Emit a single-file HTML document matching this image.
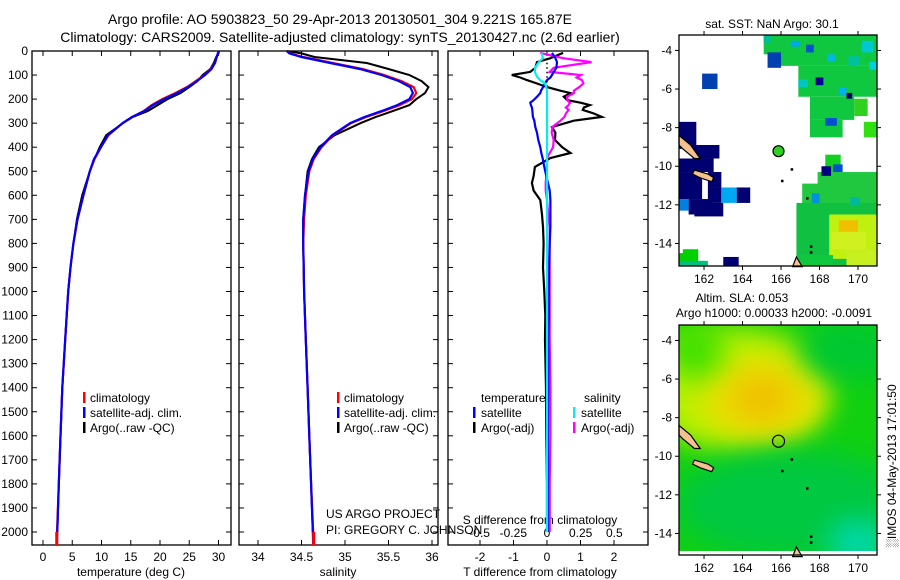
<!DOCTYPE html>
<html><head><meta charset="utf-8"><style>
body{margin:0;background:#fff;}
svg{display:block;font-family:"Liberation Sans",sans-serif;}
text{fill:#000;}
</style></head><body>
<svg id="fig" width="900" height="580" viewBox="0 0 900 580" xmlns="http://www.w3.org/2000/svg">
<defs>
<filter id="blur" x="-50%" y="-50%" width="200%" height="200%"><feGaussianBlur stdDeviation="14"/></filter>
<clipPath id="clipMap2"><rect x="679" y="325" width="198" height="230"/></clipPath>
<clipPath id="clipMap1"><rect x="679" y="35" width="198" height="231"/></clipPath>
</defs>
<text x="340" y="24" font-size="14" text-anchor="middle">Argo profile: AO 5903823_50 29-Apr-2013 20130501_304 9.221S 165.87E</text>
<text x="340" y="42" font-size="14" text-anchor="middle">Climatology: CARS2009. Satellite-adjusted climatology: synTS_20130427.nc (2.6d earlier)</text>
<g id="g"></g>
</svg>
<script>
// ---------- data ----------
const depth = [0,10,25,50,75,100,125,150,175,200,225,250,275,300,350,400,450,500,600,700,800,900,1000,1200,1400,1600,1800,2000,2050];
const tempSat  = [30.0,29.9,29.7,29.4,28.8,27.7,26.3,24.8,22.9,20.7,18.8,17.3,15.2,13.6,11.1,9.9,8.7,8.0,6.9,5.9,5.2,4.7,4.3,3.8,3.3,3.0,2.7,2.45,2.4];
const tempClim = [30.0,29.9,29.7,29.4,28.7,27.6,26.1,24.6,22.6,20.4,18.6,17.2,15.2,13.6,11.2,9.9,8.8,8.0,6.9,5.9,5.2,4.7,4.3,3.8,3.3,3.0,2.7,2.4,2.35];
const tempArgo = [30.1,30.0,29.6,29.2,28.6,27.3,26.4,25.0,23.5,21.3,19.6,17.9,15.3,13.7,10.8,9.7,8.8,8.0,6.7,5.8,5.2,4.7,4.3,3.8,3.3,3.0,2.7,2.45,2.45];
const salSat  = [34.33,34.36,34.5,34.83,35.17,35.42,35.62,35.75,35.78,35.74,35.6,35.42,35.22,35.06,34.85,34.72,34.63,34.58,34.54,34.52,34.52,34.525,34.53,34.55,34.57,34.59,34.61,34.63,34.635];
const salClim = [34.33,34.37,34.52,34.86,35.2,35.45,35.65,35.79,35.82,35.77,35.63,35.44,35.24,35.07,34.86,34.73,34.64,34.59,34.55,34.53,34.52,34.525,34.53,34.55,34.57,34.59,34.61,34.635,34.64];
const salArgo = [34.33,34.5,34.65,35.25,35.5,35.74,35.88,35.96,35.92,35.82,35.74,35.55,35.35,35.18,34.88,34.7,34.62,34.57,34.54,34.52,34.52,34.525,34.53,34.55,34.57,34.59,34.61,34.63,34.63];
const diffDepth = [8,30,46,70,87,100,110,121,135,150,165,175,190,204,215,225,235,245,260,274,290,316,340,370,400,424,445,482,520,549,580,620,680,732,800,900,1000,1100,1200,1400,1600,1800,2000];
const tArgoDiff = [0.48,0.1,-0.3,-0.35,-0.5,-1.05,-0.8,-0.6,-0.3,0,0.4,0.7,0.5,0.6,1.0,1.28,1.1,1.07,1.4,1.64,0.8,0.15,0.25,0.24,0.45,0.7,0.1,-0.36,-0.4,-0.45,-0.4,-0.2,-0.15,-0.12,-0.1,-0.12,-0.08,-0.05,-0.06,-0.03,-0.02,0,0];
const tSatDiff  = [0.15,0.25,0.3,0.28,0.2,0.15,0.1,0,-0.06,-0.12,-0.18,-0.2,-0.3,-0.4,-0.5,-0.48,-0.45,-0.44,-0.43,-0.42,-0.38,-0.35,-0.3,-0.26,-0.2,-0.17,-0.13,-0.08,-0.02,0.03,0.08,0.1,0.1,0.1,0.08,0.06,0.05,0.05,0.04,0.04,0.03,0.03,0.03];
const sSatDiff  = [-0.04,-0.03,-0.06,-0.09,-0.09,-0.08,-0.07,-0.05,-0.015,-0.005,0,0,0,0,0,0,0,0,0,0,0,0,0,0,0,0,0,0,0,0,0,0,0,0,0,0,0,0,0,0,0,0,0];
const sArgoDiff = [-0.05,0.12,0.33,0.05,0.02,0.25,0.22,0.26,0.27,0.24,0.2,0.2,0.15,0.15,0.17,0.16,0.14,0.16,0.14,0.13,0.1,0.04,0.035,0.05,0.045,0.02,0,0,-0.005,-0.01,-0.01,0,0.01,0.02,0.02,0.02,0.02,0.02,0.02,0.025,0.025,0.02,0.02];
const depthTicks = [0,100,200,300,400,500,600,700,800,900,1000,1100,1200,1300,1400,1500,1600,1700,1800,1900,2000];
const tempTicks = [0,5,10,15,20,25,30];
const salTicks = [34,34.5,35,35.5,36];
const salTickLabels = ["34","34.5","35","35.5","36"];
const tdTicks = [-2,-1,0,1,2];
const sdTicks = [-0.5,-0.25,0,0.25,0.5];
const sdTickLabels = ["-0.5","-0.25","0","0.25","0.5"];
const lonTicks = [162,164,166,168,170];
const latTicks = [-4,-6,-8,-10,-12,-14];
const argoLon = 165.87, argoLat = -9.221;

// ---------- helpers ----------
const NS="http://www.w3.org/2000/svg";
const G=document.getElementById('g');
function mk(tag, attrs, parent){const e=document.createElementNS(NS,tag);for(const k in attrs)e.setAttribute(k,attrs[k]);(parent||G).appendChild(e);return e;}
const yD = d => 51 + d*0.2405;
const xT = t => 43 + t*5.85;
const xS = s => 258 + (s-34)*87;
const xTD = t => 547 + t*33.5;
const xSD = s => 547 + s*134.7;
const mapX = lon => 679 + (lon-160.7)*19.25;
const map1Y = lat => 35 + (-3.2-lat)*19.3;
const map2Y = lat => 325 + (-3.2-lat)*19.3;

function frame(x,y,w,h,name){
  const r=mk('rect',{x:x,y:y,width:w,height:h,fill:'none',stroke:'#000','stroke-width':1.3});
  
  
}
function line(xs, ys, color, name, w){
  const pts = xs.map((v,i)=>v.toFixed(1)+','+ys[i].toFixed(1)).join(' ');
  const p=mk('polyline',{points:pts,fill:'none',stroke:color,'stroke-width':w||2.2,'stroke-linejoin':'miter'});
  
  
}
function txt(x,y,s,size,anchor,name,extra){
  const t=mk('text',Object.assign({x:x,y:y,'font-size':size,'text-anchor':anchor||'start'},extra||{}));
  t.textContent=s;
  
  
  return t;
}
function legendMark(x,y,color){
  const r=mk('rect',{x:x,y:y-10,width:2.5,height:11,fill:color});
  
  
}

// ---------- profile panels ----------
const panels=[[32,199],[239,199],[448,200]];
const PY=51, PH=494;
panels.forEach((p,i)=>{
  frame(p[0],PY,p[1],PH,'profile-panel-'+(i+1));
  depthTicks.forEach(d=>{
    mk('line',{x1:p[0],x2:p[0]+5,y1:yD(d),y2:yD(d),stroke:'#000','stroke-width':1});
    mk('line',{x1:p[0]+p[1]-5,x2:p[0]+p[1],y1:yD(d),y2:yD(d),stroke:'#000','stroke-width':1});
  });
});
depthTicks.forEach(d=>{ txt(28,yD(d)+4,String(d),12,'end','depth-tick-label'); });

tempTicks.forEach(t=>{
  mk('line',{x1:xT(t),x2:xT(t),y1:PY,y2:PY+5,stroke:'#000'});
  mk('line',{x1:xT(t),x2:xT(t),y1:PY+PH-5,y2:PY+PH,stroke:'#000'});
  txt(xT(t),561,String(t),12,'middle','temp-tick-label');
});
salTicks.forEach((s,i)=>{
  mk('line',{x1:xS(s),x2:xS(s),y1:PY,y2:PY+5,stroke:'#000'});
  mk('line',{x1:xS(s),x2:xS(s),y1:PY+PH-5,y2:PY+PH,stroke:'#000'});
  txt(xS(s),561,salTickLabels[i],12,'middle','salinity-tick-label');
});
tdTicks.forEach(t=>{
  mk('line',{x1:xTD(t),x2:xTD(t),y1:PY,y2:PY+5,stroke:'#000'});
  mk('line',{x1:xTD(t),x2:xTD(t),y1:PY+PH-5,y2:PY+PH,stroke:'#000'});
  txt(xTD(t),561,String(t),12,'middle','tdiff-tick-label');
});
sdTicks.forEach((s,i)=>{ txt(xSD(s),537,sdTickLabels[i],12,'middle','sdiff-tick-label'); });

txt(131,576,'temperature (deg C)',12,'middle','temperature-axis-title');
txt(338,576,'salinity',12,'middle','salinity-axis-title');
txt(540,576,'T difference from climatology',12,'middle','tdiff-axis-title');
txt(540,524,'S difference from climatology',12,'middle','sdiff-axis-title');

const ys = depth.map(yD);
line(tempArgo.slice(0,28).map(xT), ys.slice(0,28), '#000', 'temp-argo-line',2);
line(tempClim.map(xT), ys, '#f00', 'temp-climatology-line',2.2);
line(tempSat.map(xT), ys, '#0000ff', 'temp-satellite-line',2.2);
line(salArgo.slice(0,28).map(xS), ys.slice(0,28), '#000', 'salinity-argo-line',2);
line(salClim.map(xS), ys, '#f00', 'salinity-climatology-line',2.2);
line(salSat.map(xS), ys, '#0000ff', 'salinity-satellite-line',2.2);
mk('rect',{x:xT(tempClim[28])-1.5,y:yD(2000),width:3,height:13,fill:'#f00'});
mk('rect',{x:xS(salClim[28])-1.5,y:yD(2000),width:3,height:13,fill:'#f00'});

const dys = diffDepth.map(yD);
const z=mk('line',{x1:xTD(0),x2:xTD(0),y1:yD(30),y2:yD(560),stroke:'#000','stroke-width':1.5,'stroke-dasharray':'1.5,3'});


line(tArgoDiff.map(xTD), dys, '#000', 'tdiff-argo-line',2.2);
line(sArgoDiff.map(xSD), dys, '#ff00ff', 'sdiff-argo-line',2.2);
line(tSatDiff.map(xTD), dys, '#0000ff', 'tdiff-satellite-line',2.2);
line(sSatDiff.map(xSD), dys, '#00f0f0', 'sdiff-satellite-line',2.2);

[['#f00','climatology'],['#0000ff','satellite-adj. clim.'],['#000','Argo(..raw -QC)']].forEach((e,i)=>{
  legendMark(83,402+i*15,e[0]); txt(90,402+i*15,e[1],12,'start','temp-legend-entry');
  legendMark(337,402+i*15,e[0]); txt(344,402+i*15,e[1],12,'start','salinity-legend-entry');
});
txt(481,402,'temperature',12,'start','legend-header-temperature');
txt(584,402,'salinity',12,'start','legend-header-salinity');
legendMark(473,417,'#0000ff'); txt(481,417,'satellite',12,'start','legend-entry-t-satellite');
legendMark(473,432,'#000'); txt(481,432,'Argo(-adj)',12,'start','legend-entry-t-argo');
legendMark(573,417,'#00f0f0'); txt(581,417,'satellite',12,'start','legend-entry-s-satellite');
legendMark(573,432,'#ff00ff'); txt(581,432,'Argo(-adj)',12,'start','legend-entry-s-argo');
txt(326,518,'US ARGO PROJECT',12,'start','project-label');
txt(326,534,'PI: GREGORY C. JOHNSON',12,'start','pi-label');

// ---------- SST map ----------
const sstCells = [
 [165.1,-3.2,5.9,1.0,'#10c840'],[165.8,-3.2,5.2,1.6,'#10c840'],[166.9,-4.8,4.1,1.6,'#10c840'],[167.5,-6.4,2.3,1.2,'#10c840'],[167.5,-7.6,1.7,0.9,'#10c840'],
 [165.1,-3.2,0.4,0.4,'#00c090'],[166.5,-3.5,0.5,0.3,'#00a8f0'],[167.3,-3.7,0.4,0.4,'#0050d0'],[170.2,-3.5,0.6,0.6,'#00c8d0'],
 [169.5,-4.3,0.6,0.5,'#00c0a0'],[170.6,-4.6,0.4,0.4,'#00d0e0'],[168.4,-4.2,0.4,0.4,'#00b8e0'],[167.8,-5.4,0.4,0.4,'#000090'],
 [166.9,-5.5,0.5,0.4,'#00c8c0'],[169.0,-5.9,0.4,0.4,'#00b0f0'],[169.4,-6.2,0.3,0.3,'#000060'],[169.8,-6.5,0.7,0.9,'#30d020'],
 [168.3,-7.5,0.6,0.4,'#0050d0'],[170.3,-7.7,0.8,0.8,'#30e010'],[165.3,-4.1,0.7,0.8,'#0040b0'],[161.9,-5.2,0.8,0.8,'#0040b0'],
 [160.7,-7.7,0.9,1.4,'#000070'],[161.4,-8.9,1.4,0.7,'#000070'],[160.7,-9.6,1.8,0.7,'#000070'],[160.7,-10.3,1.2,1.4,'#000070'],
 [162.2,-10.3,0.7,0.8,'#000070'],[161.2,-11.7,1.2,0.8,'#000070'],[162.2,-11.1,0.7,0.8,'#000070'],[161.5,-11.9,1.5,0.7,'#000070'],
 [160.7,-11.7,0.5,0.6,'#0080e0'],[162.9,-11.1,0.8,0.8,'#00a8f0'],[163.7,-11.1,0.7,0.8,'#000070'],
 [168.3,-9.4,0.8,0.9,'#10d020'],[167.9,-10.3,3.1,1.4,'#20c840'],[167.1,-10.9,3.9,4.3,'#20c840'],[166.8,-11.9,4.2,3.4,'#10c040'],
 [168.5,-12.5,2.5,2.3,'#c0f010'],[169.0,-12.8,1.0,0.6,'#f0c000'],[168.6,-13.4,1.8,0.9,'#d0f020'],[169.4,-14.3,1.6,0.9,'#c8f020'],
 [168.1,-10.0,0.5,0.5,'#000080'],[168.7,-9.9,0.5,0.4,'#0050d0'],[167.6,-11.4,0.4,0.5,'#0090e0'],[169.6,-11.6,0.5,0.4,'#00b8a0'],
 [160.7,-14.5,0.3,0.5,'#00d000'],[160.9,-14.3,0.8,0.8,'#00d000'],[160.7,-14.9,1.5,0.4,'#00c080'],[160.7,-15.2,2.2,0.6,'#00c080'],
 [163.0,-14.7,0.8,0.5,'#000070'],[163.0,-15.2,0.8,0.6,'#000070'],[167.0,-14.6,1.7,0.6,'#10c840']
];
const m1=mk('g',{'clip-path':'url(#clipMap1)'});


sstCells.forEach(c=>{
  const r=mk('rect',{x:mapX(c[0]),y:map1Y(c[1]),width:c[2]*19.25,height:c[3]*19.3,fill:c[4]},m1);
  
  
});
// ---------- SLA map ----------
const m2=mk('g',{'clip-path':'url(#clipMap2)'});


mk('rect',{x:679,y:325,width:198,height:230,fill:'#10d010'},m2);
const blobs=[[163.5,-6.5,5,3.2,'#b8f000'],[165,-7,3.2,2.2,'#e8e000'],[165,-7,1.6,1.2,'#f0c000'],[169.5,-4.5,2.5,1.6,'#00c830'],
 [166.5,-12.5,6,2.8,'#00c840'],[170,-14.5,1.6,1.2,'#00d8b0'],[161.5,-4.5,1.5,1.5,'#40e000']];
blobs.forEach(b=>{
  mk('ellipse',{cx:mapX(b[0]),cy:map2Y(b[1]),rx:b[2]*19.25,ry:b[3]*19.3,fill:b[4],filter:'url(#blur)'},m2);
});
mk('rect',{x:679,y:551,width:198,height:4,fill:'#fff'},m2);

[map1Y,map2Y].forEach((Y,k)=>{
  const isl=[[[160.7,-8.4],[161.3,-8.9],[161.8,-9.6],[161.5,-9.6],[160.9,-9.1],[160.7,-8.9]],
             [[161.5,-10.2],[162.2,-10.4],[162.5,-10.6],[162.4,-10.8],[161.8,-10.6],[161.4,-10.4]],
             [[166.8,-14.7],[167.1,-15.2],[166.6,-15.2]]];
  isl.forEach(poly=>{
    const p=mk('polygon',{points:poly.map(q=>mapX(q[0]).toFixed(1)+','+Y(q[1]).toFixed(1)).join(' '),fill:'#f4c090',stroke:'#000','stroke-width':1.2});
    
    
  });
  [[166.0,-10.7],[167.3,-11.6],[167.5,-14.1],[167.5,-14.4],[166.5,-10.1]].forEach(q=>{
    mk('rect',{x:mapX(q[0]),y:Y(q[1]),width:2.5,height:2.5,fill:'#000'});
  });
});

[[35,231,map1Y,'sst-map'],[325,230,map2Y,'sla-map']].forEach(m=>{
  frame(679,m[0],198,m[1],m[3]+'-frame');
  lonTicks.forEach(l=>{
    mk('line',{x1:mapX(l),x2:mapX(l),y1:m[0],y2:m[0]-4,stroke:'#000'});
    mk('line',{x1:mapX(l),x2:mapX(l),y1:m[0]+m[1],y2:m[0]+m[1]+4,stroke:'#000'});
    txt(mapX(l),m[0]+m[1]+17,String(l),12,'middle',m[3]+'-lon-label');
  });
  latTicks.forEach(l=>{
    mk('line',{x1:679,x2:675,y1:m[2](l),y2:m[2](l),stroke:'#000'});
    mk('line',{x1:877,x2:881,y1:m[2](l),y2:m[2](l),stroke:'#000'});
    txt(672,m[2](l)+4,String(l),12,'end',m[3]+'-lat-label');
  });
});
const c1=mk('circle',{cx:mapX(argoLon),cy:map1Y(argoLat),r:5.5,fill:'#30d020',stroke:'#000','stroke-width':1.2});


const c2=mk('circle',{cx:mapX(argoLon),cy:map2Y(argoLat),r:6,fill:'none',stroke:'#000','stroke-width':1.2});



txt(772,28,'sat. SST: NaN Argo: 30.1',12,'middle','sst-map-title');
txt(742,302,'Altim. SLA: 0.053',12,'middle','sla-map-title');
txt(774,317,'Argo h1000: 0.00033 h2000: -0.0091',12,'middle','sla-map-subtitle');
txt(0,0,'\u2591IMOS 04-May-2013 17:01:50',12,'middle','timestamp-label',{transform:'translate(896,466) rotate(-90)'});
</script>
</body></html>
